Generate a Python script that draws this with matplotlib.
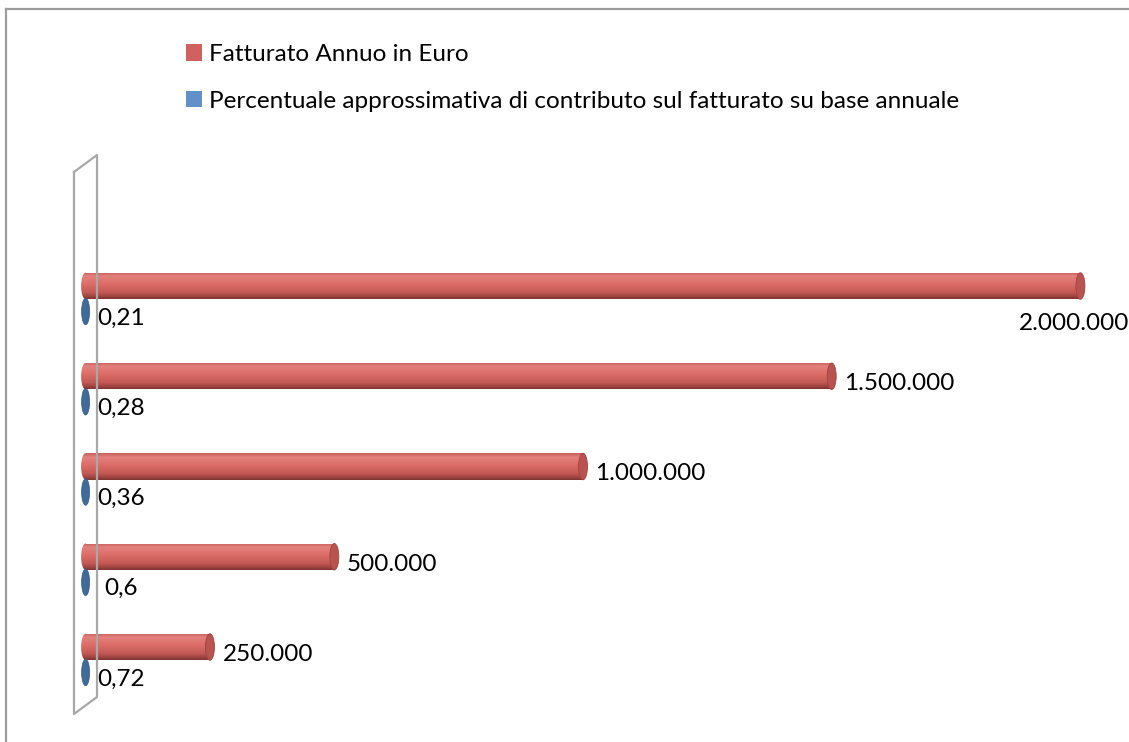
import numpy as np
import matplotlib
matplotlib.use("Agg")
import matplotlib.pyplot as plt
from matplotlib.patches import Ellipse, Patch
from matplotlib.lines import Line2D
from matplotlib.colors import LinearSegmentedColormap

# ---------------- data ----------------
series_names = ["Fatturato Annuo in Euro",
                "Percentuale approssimativa di contributo sul fatturato su base annuale"]
revenue = [250000, 500000, 1000000, 1500000, 2000000]
percent = [0.72, 0.6, 0.36, 0.28, 0.21]
revenue_labels = ["250.000", "500.000", "1.000.000", "1.500.000", "2.000.000"]
percent_labels = ["0,72", "0,6", "0,36", "0,28", "0,21"]

plt.rcParams["font.family"] = ["Lato", "DejaVu Sans"]

W, H = 1129, 742
fig = plt.figure(figsize=(W / 100, H / 100), dpi=100)
ax = fig.add_axes([0, 0, 1, 1])

px_per_unit = 497.4e-6
x0_px = 85.6
slot = 90.25
base = H - 659.75
ax.set_xlim(-x0_px / px_per_unit, (W - x0_px) / px_per_unit)
ax.set_ylim(-base / slot, (H - base) / slot)
ax.axis("off")

# outer chart border
lc = "#9c9c9c"
fig.add_artist(Line2D([6 / W, 6 / W], [-0.01, 1 - 9 / H], color=lc, lw=1.6, transform=fig.transFigure))
fig.add_artist(Line2D([6 / W, 1.01], [1 - 9 / H, 1 - 9 / H], color=lc, lw=1.6, transform=fig.transFigure))

# 3D wall
wall = [(74, 172), (97, 155), (97, 697), (74, 714), (74, 172)]
fig.add_artist(Line2D([p[0] / W for p in wall], [1 - p[1] / H for p in wall],
                      color="#a8a8a8", lw=1.6, transform=fig.transFigure, zorder=1))

y = np.arange(len(revenue))
off = 12.75 / slot
h = 26.5 / slot
cap_w = 9 / px_per_unit
blue_w = 8 / px_per_unit

red_cmap = LinearSegmentedColormap.from_list(
    "cyl", [(0.0, "#c65f5a"), (0.15, "#e3817c"), (0.45, "#dc6c67"),
            (0.75, "#c45a55"), (0.9, "#a04541"), (1.0, "#7e3532")])
grad = np.linspace(0, 1, 100).reshape(-1, 1)

red_bars = ax.barh(y + off, revenue, height=h, color="none", edgecolor="none", zorder=3)
for bar, v, yc in zip(red_bars, revenue, y + off):
    im = ax.imshow(grad, cmap=red_cmap, aspect="auto", origin="upper",
                   extent=[0, v, yc - h / 2, yc + h / 2], zorder=3)
    im.set_clip_path(bar)
    left = Ellipse((0, yc), cap_w, h, facecolor="none", edgecolor="none")
    ax.add_patch(left)
    im2 = ax.imshow(grad, cmap=red_cmap, aspect="auto", origin="upper",
                    extent=[-cap_w / 2, 0, yc - h / 2, yc + h / 2], zorder=3)
    im2.set_clip_path(left)
    ax.add_patch(Ellipse((v, yc), cap_w, h, facecolor="#b9534f", edgecolor="#9e4441",
                         lw=0.6, zorder=4))

blue_bars = ax.barh(y - off, percent, height=h, color="#3d6897", zorder=3)
for v, yc in zip(percent, y - off):
    ax.add_patch(Ellipse((v, yc), blue_w, h, facecolor="#3f6a99", edgecolor="#345a85",
                         lw=0.5, zorder=4))

ax.set_xlim(-x0_px / px_per_unit, (W - x0_px) / px_per_unit)
ax.set_ylim(-base / slot, (H - base) / slot)

fs = 17.5
red_offsets = [(12.5, -14), (12.5, -14), (12.5, -14), (12.5, -14), (-62, -44)]
for v, yc, lab, o in zip(revenue, y + off, revenue_labels, red_offsets):
    ax.annotate(lab, (v, yc), xytext=o, textcoords="offset pixels",
                ha="left", va="baseline", fontsize=fs, color="black", annotation_clip=False)
blue_offsets = [(11.5, -13), (18.5, -13), (11.5, -13), (11.5, -13), (11.5, -13)]
for v, yc, lab, o in zip(percent, y - off, percent_labels, blue_offsets):
    ax.annotate(lab, (v, yc), xytext=o, textcoords="offset pixels",
                ha="left", va="baseline", fontsize=fs, color="black", annotation_clip=False)

handles = [Patch(facecolor="#cf625e", edgecolor="none"),
           Patch(facecolor="#6191c8", edgecolor="none")]
fig.legend(handles, series_names, loc="upper left",
           bbox_to_anchor=(186 / W, 1 - 44 / H), bbox_transform=fig.transFigure,
           frameon=False, fontsize=fs, handlelength=0.65, handleheight=0.65,
           handletextpad=0.3, labelspacing=1.05, borderpad=0, borderaxespad=0)

fig.savefig("out.png", dpi=100)
